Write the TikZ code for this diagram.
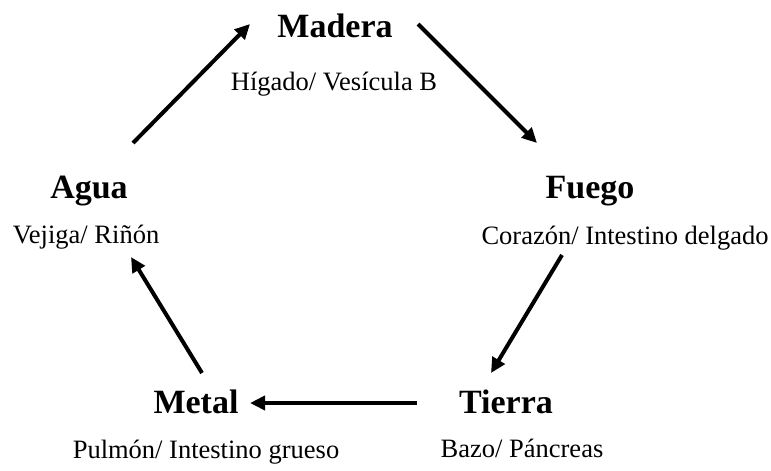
\documentclass[tikz,border=0pt]{standalone}
\usepackage{fontspec}
\setmainfont{Liberation Serif}
\usetikzlibrary{arrows.meta}

\tikzset{
  element/.style={anchor=base, inner sep=0pt, font=\fontsize{34}{40}\selectfont\bfseries},
  organ/.style={anchor=base, inner sep=0pt, font=\fontsize{26.5}{30}\selectfont},
  cycle/.style={line width=4pt, -{Triangle[length=15pt,width=14pt]}}
}

\begin{document}
\begin{tikzpicture}[x=1pt, y=-1pt]
\useasboundingbox (0,0) rectangle (771,471);
%% Elements
\node[element] (madera) at (335,37) {Madera};
\node[organ] (higado) at (334,90) {Hígado/ Vesícula B};
\node[element] (fuego) at (590,198) {Fuego};
\node[organ] (corazon) at (625,244) {Corazón/ Intestino delgado};
\node[element] (tierra) at (506,413) {Tierra};
\node[organ] (bazo) at (522,457) {Bazo/ Páncreas};
\node[element] (metal) at (196,413) {Metal};
\node[organ] (pulmon) at (206,458) {Pulmón/ Intestino grueso};
\node[element] (agua) at (89,198) {Agua};
\node[organ] (vejiga) at (86,243) {Vejiga/ Riñón};
%% Arrow ends
\coordinate (agua-out) at (133,143);
\coordinate (madera-in) at (250,24);
\coordinate (madera-out) at (418,24);
\coordinate (fuego-in) at (537,143);
\coordinate (fuego-out) at (562,255);
\coordinate (tierra-in) at (491,373);
\coordinate (tierra-out) at (417,403);
\coordinate (metal-in) at (250,403);
\coordinate (metal-out) at (202,373);
\coordinate (agua-in) at (131,257);
%% Cycle
\draw[cycle] (agua-out) -- (madera-in);
\draw[cycle] (madera-out) -- (fuego-in);
\draw[cycle] (fuego-out) -- (tierra-in);
\draw[cycle] (tierra-out) -- (metal-in);
\draw[cycle] (metal-out) -- (agua-in);
\end{tikzpicture}
\end{document}
